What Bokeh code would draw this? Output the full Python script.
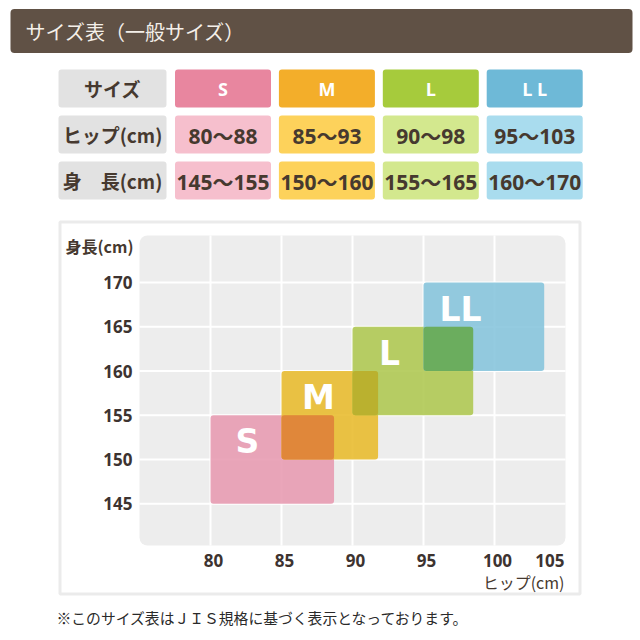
import numpy as np
from bokeh.plotting import figure
from bokeh.models import Range1d, ColumnDataSource
from bokeh.core.properties import value
from bokeh.embed import file_html
from bokeh.resources import INLINE

# ---------------- data ----------------
title = "サイズ表（一般サイズ）"
sizes = ["S", "M", "L", "LL"]
size_headers = ["S", "M", "L", "L L"]
row_labels = ["サイズ", "ヒップ(cm)", "身　長(cm)"]
hip_labels = ["80～88", "85～93", "90～98", "95～103"]
height_labels = ["145～155", "150～160", "155～165", "160～170"]
hip_lo = [80, 85, 90, 95]
hip_hi_drawn = [88.7, 91.8, 98.5, 103.5]
height_lo = [145, 150, 155, 160]
height_hi = [155, 160, 165, 170]
x_ticks = [80, 85, 90, 95, 100, 105]
y_ticks = [145, 150, 155, 160, 165, 170]
x_title = "ヒップ(cm)"
y_title = "身長(cm)"
footnote = "※このサイズ表はＪＩＳ規格に基づく表示となっております。"

# ---------------- styles ----------------
hdr_colors = ["#e8869f", "#f3ae2a", "#a6cb3c", "#6eb9d7"]
light_colors = ["#f6bfcd", "#fdd25b", "#d3e88e", "#a9dcee"]
chart_colors = ["#e696ae", "#e8b825", "#acc64a", "#81c2da"]
overlap_colors = ["#e0873a", "#bab12f", "#6bad5e"]
TXT = "#46392f"
JP = value("Noto Sans CJK JP")
NUM = value("Open Sans, Noto Sans CJK JP")

# page-pixel canvas
W = H = 640
p = figure(width=W, height=H, x_range=Range1d(0, W), y_range=Range1d(H, 0),
           output_backend="svg", toolbar_location=None,
           x_axis_type=None, y_axis_type=None,
           outline_line_color=None, background_fill_color="white",
           border_fill_color="white")
p.min_border_left = p.min_border_right = p.min_border_top = p.min_border_bottom = 0
p.grid.visible = False

# chart area (page pixels) and its data domain
PX_L, PX_R, PY_T, PY_B = 139, 565, 235, 545
X0, X1 = 75, 105
Y0, Y1 = 140.3, 175.3
sx = (PX_R - PX_L) / (X1 - X0)
sy = (PY_B - PY_T) / (Y1 - Y0)
p.extra_x_ranges = {"hip": Range1d(X0 - PX_L / sx, X1 + (W - PX_R) / sx)}
p.extra_y_ranges = {"ht": Range1d(Y0 - (H - PY_B) / sy, Y1 + PY_T / sy)}
R = dict(x_range_name="hip", y_range_name="ht")

# ---------------- header ----------------
p.quad(left=10, right=632, top=8.5, bottom=52.5, fill_color="#605145",
       line_color=None, border_radius=4)
p.text(x=[25], y=[31], text=[title], text_font=JP, text_font_size="20px",
       text_color="#f4efe9", text_align="left", text_baseline="middle")

# ---------------- table ----------------
row_top0, row_pitch, row_h = 69, 46, 38
col_left0, col_pitch, col_w = 174.5, 103.9, 96
lab_left, lab_right = 58, 166

rt = [row_top0 + r * row_pitch for r in range(3)]
p.quad(left=[lab_left] * 3, right=[lab_right] * 3, top=rt, bottom=[t + row_h for t in rt],
       fill_color="#e2e2e2", line_color=None, border_radius=3)
p.text(x=[(lab_left + lab_right) / 2] * 3, y=[t + row_h / 2 for t in rt], text=row_labels,
       text_font=JP, text_font_style="bold", text_font_size="19px", text_color=TXT,
       text_align="center", text_baseline="middle")

cells = dict(l=[], r=[], t=[], b=[], c=[], txt=[], tc=[], cx=[], cy=[])
row_texts = [size_headers, hip_labels, height_labels]
for r in range(3):
    for i in range(len(sizes)):
        left = col_left0 + i * col_pitch
        cells["l"].append(left)
        cells["r"].append(left + col_w)
        cells["t"].append(rt[r])
        cells["b"].append(rt[r] + row_h)
        cells["c"].append(hdr_colors[i] if r == 0 else light_colors[i])
        cells["txt"].append(row_texts[r][i])
        cells["tc"].append("white" if r == 0 else TXT)
        cells["cx"].append(left + col_w / 2)
        cells["cy"].append(rt[r] + row_h / 2 + (0 if r == 0 else 1))
cs = ColumnDataSource(cells)
p.quad(left="l", right="r", top="t", bottom="b", fill_color="c", line_color=None,
       border_radius=3, source=cs)
hdr_src = ColumnDataSource({k: v[:4] for k, v in cells.items()})
body_src = ColumnDataSource({k: v[4:] for k, v in cells.items()})
p.text(x="cx", y="cy", text="txt", text_color="tc", source=hdr_src, text_font=NUM,
       text_font_style="bold", text_font_size="18px", text_align="center",
       text_baseline="middle")
p.text(x="cx", y="cy", text="txt", text_color="tc", source=body_src, text_font=NUM,
       text_font_style="bold", text_font_size="21px", text_align="center",
       text_baseline="middle")

# ---------------- chart panel ----------------
p.quad(left=59.5, right=579.5, top=221.5, bottom=593.5, fill_color="white",
       line_color="#ebebeb", line_width=3)
p.quad(left=[X0], right=[X1], bottom=[Y0], top=[Y1], fill_color="#ededed",
       line_color=None, border_radius=8, **R)

gx = [t for t in x_ticks if X0 < t < X1]
gy = [t for t in y_ticks if Y0 < t < Y1]
p.segment(x0=gx, x1=gx, y0=[Y0] * len(gx), y1=[Y1] * len(gx), line_color="white",
          line_width=2, **R)
p.segment(x0=[X0] * len(gy), x1=[X1] * len(gy), y0=gy, y1=gy, line_color="white",
          line_width=2, **R)

p.quad(left=hip_lo, right=hip_hi_drawn, bottom=height_lo, top=height_hi,
       fill_color=chart_colors, fill_alpha=0.85, line_color=None, border_radius=3, **R)

hl = np.array(hip_lo, float); hh = np.array(hip_hi_drawn, float)
yl = np.array(height_lo, float); yh = np.array(height_hi, float)
ov_l = np.maximum(hl[:-1], hl[1:])
ov_r = np.minimum(hh[:-1], hh[1:])
ov_b = np.maximum(yl[:-1], yl[1:])
ov_t = np.minimum(yh[:-1], yh[1:])
p.quad(left=ov_l, right=ov_r, bottom=ov_b, top=ov_t, fill_color=overlap_colors,
       line_color=None, border_radius=3, **R)

p.text(x=hl + 2.6, y=yl + 7.0, text=sizes, text_font=value("DejaVu Sans"),
       text_font_style="bold", text_font_size="33px", text_color="white",
       text_align="center", text_baseline="middle", **R)

# tick labels
p.text(x=[X0] * len(y_ticks), y=y_ticks, text=[str(t) for t in y_ticks], x_offset=-7,
       text_font=NUM, text_font_style="bold", text_font_size="17px", text_color="#3d3330",
       text_align="right", text_baseline="middle", **R)
xs = ColumnDataSource(dict(
    x=x_ticks, y=[Y0] * len(x_ticks), t=[str(t) for t in x_ticks],
    align=["right" if t >= X1 else "center" for t in x_ticks],
    off=[-1 if t >= X1 else 3 for t in x_ticks]))
p.text(x="x", y="y", text="t", x_offset="off", text_align="align", y_offset=15,
       text_font=NUM, text_font_style="bold", text_font_size="17px", text_color="#3d3330",
       text_baseline="middle", source=xs, **R)

p.text(x=[X0], y=[Y1], text=[y_title], x_offset=-6, y_offset=10, text_font=JP,
       text_font_style="bold", text_font_size="16px", text_color=TXT,
       text_align="right", text_baseline="middle", **R)
p.text(x=[X1], y=[Y0], text=[x_title], x_offset=-1, y_offset=36, text_font=JP,
       text_font_size="16px", text_color=TXT, text_align="right",
       text_baseline="middle", **R)

# footnote
p.text(x=[56], y=[617], text=[footnote], text_font=JP, text_font_size="14.8px",
       text_color="#2a2a2a", text_align="left", text_baseline="middle")

open("out.html", "w").write(file_html(p, INLINE))
